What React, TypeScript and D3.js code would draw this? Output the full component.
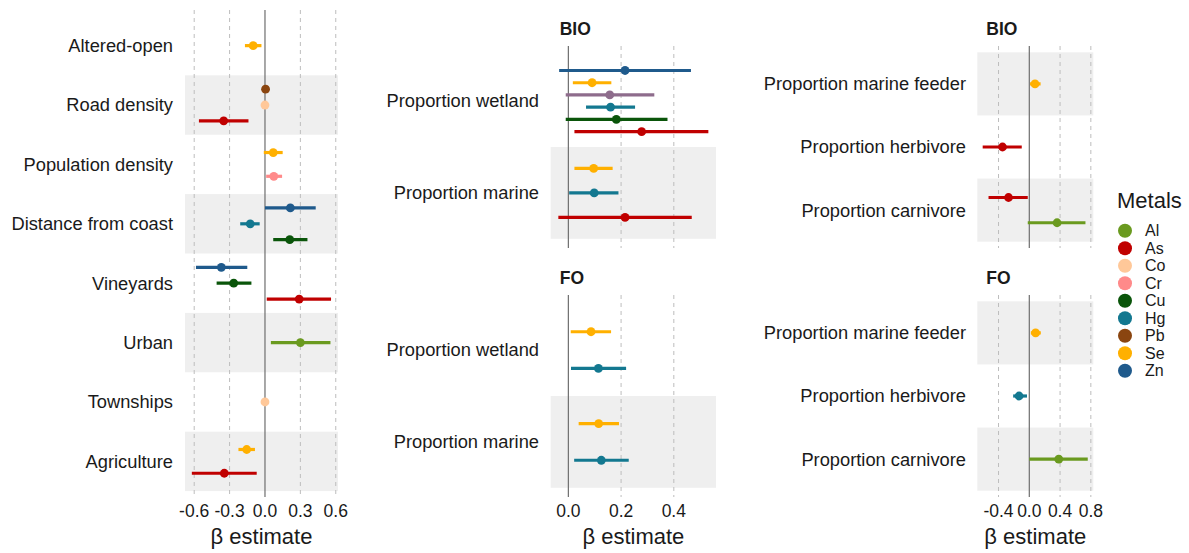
import React from 'react';
import * as d3 from 'd3';

// metal palette (legend order)
const metals = ['Al', 'As', 'Co', 'Cr', 'Cu', 'Hg', 'Pb', 'Se', 'Zn'];
const metalColors = ['#6a9a1f', '#c00000', '#ffc899', '#ff8a8a', '#0a550a', '#137890', '#8a4510', '#ffb000', '#1f5a8c'];
// series shown in the BIO wetland panel but missing from the legend
const unlistedColor = '#8e6c8c';

// left panel: land use
const landCategories = ['Altered-open', 'Road density', 'Population density', 'Distance from coast', 'Vineyards', 'Urban', 'Townships', 'Agriculture'];
const landEstimates = [
  { cat: 'Altered-open', metal: 'Se', est: -0.10, lo: -0.17, hi: -0.03 },
  { cat: 'Road density', metal: 'Pb', est: 0.005, lo: 0.005, hi: 0.005 },
  { cat: 'Road density', metal: 'Co', est: 0.0, lo: 0.0, hi: 0.0 },
  { cat: 'Road density', metal: 'As', est: -0.35, lo: -0.56, hi: -0.14 },
  { cat: 'Population density', metal: 'Se', est: 0.07, lo: -0.01, hi: 0.15 },
  { cat: 'Population density', metal: 'Cr', est: 0.075, lo: 0.01, hi: 0.145 },
  { cat: 'Distance from coast', metal: 'Zn', est: 0.215, lo: 0.0, hi: 0.43 },
  { cat: 'Distance from coast', metal: 'Hg', est: -0.125, lo: -0.21, hi: -0.045 },
  { cat: 'Distance from coast', metal: 'Cu', est: 0.21, lo: 0.07, hi: 0.36 },
  { cat: 'Vineyards', metal: 'Zn', est: -0.37, lo: -0.585, hi: -0.15 },
  { cat: 'Vineyards', metal: 'Cu', est: -0.265, lo: -0.41, hi: -0.115 },
  { cat: 'Vineyards', metal: 'As', est: 0.29, lo: 0.015, hi: 0.56 },
  { cat: 'Urban', metal: 'Al', est: 0.30, lo: 0.05, hi: 0.555 },
  { cat: 'Townships', metal: 'Co', est: 0.0, lo: 0.0, hi: 0.0 },
  { cat: 'Agriculture', metal: 'Se', est: -0.155, lo: -0.225, hi: -0.085 },
  { cat: 'Agriculture', metal: 'As', est: -0.345, lo: -0.62, hi: -0.07 },
];

// middle panels: habitat
const habitatCategories = ['Proportion wetland', 'Proportion marine'];
const habitatBio = [
  { cat: 'Proportion wetland', metal: 'Zn', est: 0.215, lo: -0.035, hi: 0.465 },
  { cat: 'Proportion wetland', metal: 'Se', est: 0.09, lo: 0.017, hi: 0.163 },
  { cat: 'Proportion wetland', metal: 'unlisted', est: 0.157, lo: -0.01, hi: 0.326 },
  { cat: 'Proportion wetland', metal: 'Hg', est: 0.16, lo: 0.067, hi: 0.253 },
  { cat: 'Proportion wetland', metal: 'Cu', est: 0.182, lo: -0.01, hi: 0.376 },
  { cat: 'Proportion wetland', metal: 'As', est: 0.278, lo: 0.023, hi: 0.531 },
  { cat: 'Proportion marine', metal: 'Se', est: 0.096, lo: 0.023, hi: 0.168 },
  { cat: 'Proportion marine', metal: 'Hg', est: 0.098, lo: 0.003, hi: 0.19 },
  { cat: 'Proportion marine', metal: 'As', est: 0.215, lo: -0.038, hi: 0.468 },
];
const habitatFo = [
  { cat: 'Proportion wetland', metal: 'Se', est: 0.086, lo: 0.009, hi: 0.162 },
  { cat: 'Proportion wetland', metal: 'Hg', est: 0.114, lo: 0.01, hi: 0.219 },
  { cat: 'Proportion marine', metal: 'Se', est: 0.115, lo: 0.039, hi: 0.192 },
  { cat: 'Proportion marine', metal: 'Hg', est: 0.125, lo: 0.022, hi: 0.229 },
];

// right panels: diet
const dietCategories = ['Proportion marine feeder', 'Proportion herbivore', 'Proportion carnivore'];
const dietBio = [
  { cat: 'Proportion marine feeder', metal: 'Se', est: 0.074, lo: 0.01, hi: 0.147 },
  { cat: 'Proportion herbivore', metal: 'As', est: -0.348, lo: -0.606, hi: -0.098 },
  { cat: 'Proportion carnivore', metal: 'As', est: -0.27, lo: -0.53, hi: -0.02 },
  { cat: 'Proportion carnivore', metal: 'Al', est: 0.361, lo: -0.02, hi: 0.73 },
];
const dietFo = [
  { cat: 'Proportion marine feeder', metal: 'Se', est: 0.082, lo: 0.02, hi: 0.15 },
  { cat: 'Proportion herbivore', metal: 'Hg', est: -0.133, lo: -0.21, hi: -0.03 },
  { cat: 'Proportion carnivore', metal: 'Al', est: 0.383, lo: 0.0, hi: 0.76 },
];

const landTicks = [-0.6, -0.3, 0, 0.3, 0.6];
const habitatTicks = [0, 0.2, 0.4];
const dietTicks = [-0.4, 0, 0.4, 0.8];

const FONT = 'Liberation Sans, Arial, Helvetica, sans-serif';
const color = d3.scaleOrdinal<string, string>().domain(metals).range(metalColors).unknown(unlistedColor);

type Row = { cat: string; metal: string; est: number; lo: number; hi: number };

const Panel = ({ rows, cats, xDomain, xRange, yRange, ticks, title, labelX, showAxis }: {
  rows: Row[]; cats: string[]; xDomain: [number, number]; xRange: [number, number];
  yRange: [number, number]; ticks: number[]; title?: string; labelX: number; showAxis: boolean;
}) => {
  const x = d3.scaleLinear().domain(xDomain).range(xRange);
  // discrete axis with ggplot's 0.6 expansion
  const y = d3.scaleLinear().domain([0.4, cats.length + 0.6]).range(yRange);
  const unit = y(2) - y(1);
  const [x0, x1] = xRange;
  const n = cats.length;
  return (
    <g>
      {/* shading alternates counting up from the bottom category */}
      {cats.map((c, i) => ((n - 1 - i) % 2 === 0 ? (
        <rect key={c} x={x0} width={x1 - x0} y={y(i + 0.5)} height={unit} fill="#efefef" />
      ) : null))}
      {ticks.filter(t => t !== 0).map(t => (
        <line key={t} x1={x(t)} x2={x(t)} y1={yRange[0]} y2={yRange[1]} stroke="#bdbdbd" strokeWidth={1} strokeDasharray="4,4" />
      ))}
      <line x1={x(0)} x2={x(0)} y1={yRange[0]} y2={yRange[1]} stroke="#6e6e6e" strokeWidth={1.2} />
      {cats.map((c, i) => {
        const items = rows.filter(r => r.cat === c);
        const k = items.length;
        const step = (0.8 * unit) / k;
        return (
          <g key={c}>
            <text x={labelX} y={y(i + 1)} dy="0.35em" textAnchor="end" fontSize={18.3} fill="#1a1a1a">{c}</text>
            {items.map((r, j) => {
              const yy = y(i + 1) + (j - (k - 1) / 2) * step;
              const col = color(r.metal);
              return (
                <g key={r.metal + j}>
                  <line x1={x(r.lo)} x2={x(r.hi)} y1={yy} y2={yy} stroke={col} strokeWidth={3.2} />
                  <circle cx={x(r.est)} cy={yy} r={4.4} fill={col} />
                </g>
              );
            })}
          </g>
        );
      })}
      {title && (
        <text x={x0 + 9} y={yRange[0] - 11} fontSize={17.5} fontWeight="bold" fill="#1a1a1a">{title}</text>
      )}
      {showAxis && (
        <g>
          {ticks.map(t => (
            <text key={t} x={x(t)} y={517} textAnchor="middle" fontSize={17.5} fill="#1a1a1a">{d3.format('.1f')(t).replace('−', '-')}</text>
          ))}
          <text x={(x0 + x1) / 2} y={544} textAnchor="middle" fontSize={22} fill="#1a1a1a">β estimate</text>
        </g>
      )}
    </g>
  );
};

export default function App() {
  return (
    <svg width={1189} height={553} style={{ position: 'absolute', left: 0, top: 0, background: '#fff' }} fontFamily={FONT}>
      <Panel rows={landEstimates} cats={landCategories} xDomain={[-0.678, 0.619]} xRange={[185, 338]}
        yRange={[10, 497]} ticks={landTicks} labelX={173} showAxis />
      <Panel rows={habitatBio} cats={habitatCategories} xDomain={[-0.067, 0.56]} xRange={[550.7, 716]}
        yRange={[46, 248]} ticks={habitatTicks} title="BIO" labelX={539} showAxis={false} />
      <Panel rows={habitatFo} cats={habitatCategories} xDomain={[-0.067, 0.56]} xRange={[550.7, 716]}
        yRange={[295, 497]} ticks={habitatTicks} title="FO" labelX={539} showAxis />
      <Panel rows={dietBio} cats={dietCategories} xDomain={[-0.676, 0.832]} xRange={[977.3, 1093.3]}
        yRange={[46, 248]} ticks={dietTicks} title="BIO" labelX={966} showAxis={false} />
      <Panel rows={dietFo} cats={dietCategories} xDomain={[-0.676, 0.832]} xRange={[977.3, 1093.3]}
        yRange={[295, 497]} ticks={dietTicks} title="FO" labelX={966} showAxis />
      <g>
        <text x={1117} y={208} fontSize={22} fill="#1a1a1a">Metals</text>
        {metals.map((m, i) => (
          <g key={m}>
            <circle cx={1125} cy={230.7 + i * 17.5} r={7} fill={metalColors[i]} />
            <text x={1145} y={230.7 + i * 17.5} dy="0.35em" fontSize={16} fill="#1a1a1a">{m}</text>
          </g>
        ))}
      </g>
    </svg>
  );
}
